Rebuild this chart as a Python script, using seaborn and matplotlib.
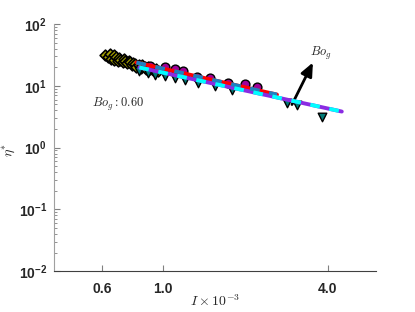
import matplotlib
matplotlib.use('Agg')
import matplotlib.pyplot as plt
import matplotlib.ticker as mticker
import pandas as pd
import seaborn as sns

diamond_x = [0.615, 0.63, 0.64, 0.645, 0.66, 0.665, 0.675, 0.685, 0.69, 0.70,
             0.715, 0.72, 0.725, 0.74, 0.75, 0.76, 0.77, 0.78, 0.79, 0.80,
             0.82, 0.83, 0.84, 0.86, 0.87, 0.88, 0.90, 0.92, 0.94, 0.96]
diamond_y = [31, 29, 33, 27.5, 26.5, 31, 29, 25, 28, 26.5,
             24, 27.5, 25.5, 23, 25.5, 24, 21.5, 23.5, 22.5, 20.5,
             21.5, 19.5, 22, 20.5, 18.5, 20, 19, 18, 19, 17.5]
circle_x = [0.90, 1.02, 1.11, 1.18, 1.33, 1.48, 1.73, 2.0, 2.2]
circle_y = [21.3, 19.8, 18.4, 17.1, 14.1, 13.6, 10.9, 10.5, 9.7]
tri_x = [0.82, 0.88, 0.935, 1.02, 1.11, 1.2, 1.34, 1.55, 1.79, 2.84, 3.08, 3.8]
tri_y = [17.5, 16.0, 15.0, 14.5, 13.2, 12.3, 11.2, 9.8, 8.6, 5.35, 4.87, 3.18]

# power-law fits (end points)
fit1_x = [0.80, 2.61]
fit1_y = [23.8, 7.2]
fit2_x = [0.82, 4.5]
fit2_y = [19.8, 3.83]

xticks = [0.6, 1.0, 4.0]
xticklabels = ['0.6', '1.0', '4.0']
yticks = [1e-2, 1e-1, 1e0, 1e1, 1e2]
yticklabels = [r'$\mathbf{10^{-2}}$', r'$\mathbf{10^{-1}}$', r'$\mathbf{10^{0}}$',
               r'$\mathbf{10^{1}}$', r'$\mathbf{10^{2}}$']

sns.set_style('white')
plt.rcParams['font.family'] = ['Liberation Sans', 'DejaVu Sans']
plt.rcParams['mathtext.fontset'] = 'custom'
plt.rcParams['mathtext.rm'] = 'cmr10'
plt.rcParams['mathtext.it'] = 'cmmi10'
plt.rcParams['mathtext.bf'] = 'Liberation Sans:bold'
plt.rcParams['mathtext.fallback'] = 'cm'

fig = plt.figure(figsize=(4.15, 3.12), dpi=100)
ax = fig.add_axes([0.130, 0.131, 0.776, 0.792])

pts = pd.DataFrame({'x': diamond_x, 'y': diamond_y})
sns.scatterplot(data=pts, x='x', y='y', marker='D', s=30, color='#a8a400',
                edgecolor='black', linewidth=1.2, ax=ax, zorder=3)
pts = pd.DataFrame({'x': circle_x, 'y': circle_y})
sns.scatterplot(data=pts, x='x', y='y', marker='o', s=40, color='#a0009a',
                edgecolor='black', linewidth=1.0, ax=ax, zorder=3)
pts = pd.DataFrame({'x': tri_x, 'y': tri_y})
sns.scatterplot(data=pts, x='x', y='y', marker='v', s=38, color='#007a78',
                edgecolor='black', linewidth=1.0, ax=ax, zorder=3)

f1 = pd.DataFrame({'x': fit1_x, 'y': fit1_y})
f2 = pd.DataFrame({'x': fit2_x, 'y': fit2_y})
sns.lineplot(data=f1, x='x', y='y', color='#ff0000', linewidth=2.8, ax=ax, zorder=4)
sns.lineplot(data=f1, x='x', y='y', color='#1f7fc0', linewidth=2.8, ax=ax, zorder=5,
             dashes=False, linestyle=(0, (2.5, 2.5)))
sns.lineplot(data=f2, x='x', y='y', color='#8a2be2', linewidth=2.8, ax=ax, zorder=4)
sns.lineplot(data=f2, x='x', y='y', color='#00ffff', linewidth=2.8, ax=ax, zorder=5,
             dashes=False, linestyle=(0, (2.5, 2.5)))

ax.set_xscale('log')
ax.set_yscale('log')
ax.set_xlim(0.4, 6.0)
ax.set_ylim(1e-2, 1e2)
ax.set_xticks(xticks)
ax.set_xticklabels(xticklabels, fontweight='bold', fontsize=10)
ax.xaxis.set_minor_locator(mticker.NullLocator())
ax.set_yticks(yticks)
ax.set_yticklabels(yticklabels, fontsize=10)
ax.yaxis.set_minor_locator(mticker.LogLocator(base=10, subs=range(2, 10)))
ax.yaxis.set_minor_formatter(mticker.NullFormatter())
ax.tick_params(axis='x', which='major', direction='in', length=4, width=0.8,
               color='#808080', pad=8, bottom=True)
ax.tick_params(axis='y', which='major', direction='in', length=4, width=0.8,
               color='#808080', pad=5, left=True)
ax.tick_params(axis='y', which='minor', direction='in', length=2, width=0.6,
               color='#808080', left=True)

for side in ['top', 'right']:
    ax.spines[side].set_visible(False)
ax.spines['left'].set_color('#a0a0a0')
ax.spines['bottom'].set_color('#404040')
ax.spines['left'].set_linewidth(0.8)
ax.spines['bottom'].set_linewidth(0.8)

ax.set_xlabel(r'$I\times10^{-3}$', fontsize=10)
ax.set_ylabel(r'$\eta^{\ast}$', fontsize=10)
ax.xaxis.set_label_coords(0.5, -0.09)
ax.yaxis.set_label_coords(-0.115, 0.49)

ax.text(0.55, 4.6, r'$Bo_g:0.60$', fontsize=9)
ax.annotate('', xy=(3.53, 23.8), xytext=(2.96, 4.97),
            arrowprops=dict(arrowstyle='-|>,head_length=0.8,head_width=0.35',
                            color='black', lw=2, shrinkA=0, shrinkB=0))
ax.text(3.45, 30, r'$Bo_g$', fontsize=9)

fig.savefig('out.png', dpi=100)
